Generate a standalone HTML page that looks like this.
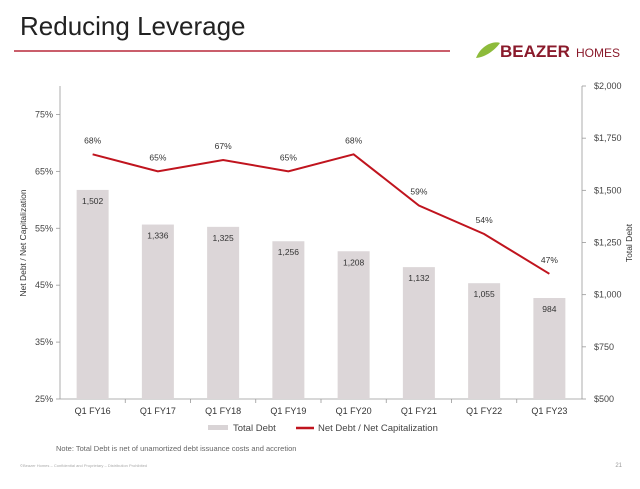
<!DOCTYPE html>
<html><head><meta charset="utf-8"><style>
body{margin:0;width:640px;height:484px;background:#fff;overflow:hidden;font-family:"Liberation Sans",sans-serif}
</style></head><body>
<svg width="640" height="484" font-family="Liberation Sans, sans-serif">
<text x="20" y="35" font-size="26" fill="#222">Reducing Leverage</text>
<line x1="14" y1="51" x2="450" y2="51" stroke="#b8283a" stroke-width="1.5"/>
<g>
<path d="M476,58 C482,43 496,41 500,43 C495,50 486,57 476,58 Z" fill="#8dbb3b"/>
<text x="500" y="57" font-size="17" font-weight="bold" fill="#8a1a2b">BEAZER</text>
<text x="576" y="57" font-size="12" fill="#8a1a2b">HOMES</text>
</g>
<g id="chart"></g>
<g>
<rect x="208" y="425" width="20" height="5" fill="#d9d4d6"/>
<text x="233" y="431" font-size="9.5" fill="#444">Total Debt</text>
<line x1="296" y1="428" x2="314" y2="428" stroke="#c0141e" stroke-width="2.5"/>
<text x="318" y="431" font-size="9.5" fill="#444">Net Debt / Net Capitalization</text>
</g>
<text x="56" y="451" font-size="7.5" fill="#666">Note: Total Debt is net of unamortized debt issuance costs and accretion</text>
<text x="20" y="467" font-size="4" fill="#aaa">©Beazer Homes – Confidential and Proprietary – Distribution Prohibited</text>
<text x="622" y="467" font-size="6" fill="#999" text-anchor="end">21</text>
<text transform="translate(26,243) rotate(-90)" font-size="8.5" fill="#333" text-anchor="middle">Net Debt / Net Capitalization</text>
<text transform="translate(632,243) rotate(-90)" font-size="8.5" fill="#333" text-anchor="middle">Total Debt</text>
</svg>
<script>
const categories=["Q1 FY16","Q1 FY17","Q1 FY18","Q1 FY19","Q1 FY20","Q1 FY21","Q1 FY22","Q1 FY23"];
const totalDebt=[1502,1336,1325,1256,1208,1132,1055,984];
const netDebtPct=[68,65,67,65,68,59,54,47];
const leftTicks=[25,35,45,55,65,75];
const rightTicks=[500,750,1000,1250,1500,1750,2000];
const NS="http://www.w3.org/2000/svg";
const g=document.getElementById('chart');
const X0=60,X1=582,Y0=399,YT=86;
const band=(X1-X0)/categories.length;
const xc=i=>X0+band*(i+0.5);
const yL=v=>Y0-(v-25)/(80-25)*(Y0-YT);
const yR=v=>Y0-(v-500)/(2000-500)*(Y0-YT);
function el(t,a){const e=document.createElementNS(NS,t);for(const k in a)e.setAttribute(k,a[k]);g.appendChild(e);return e;}
let e;
e=el('line',{x1:X0,y1:YT,x2:X0,y2:Y0,stroke:'#999','stroke-width':0.8});


e=el('line',{x1:X1,y1:YT,x2:X1,y2:Y0,stroke:'#999','stroke-width':0.8});


e=el('line',{x1:X0,y1:Y0,x2:X1,y2:Y0,stroke:'#999','stroke-width':0.8});


leftTicks.forEach(v=>{
 el('line',{x1:X0-4,y1:yL(v),x2:X0,y2:yL(v),stroke:'#999','stroke-width':0.8});
 e=el('text',{x:X0-7,y:yL(v)+3,'font-size':9,fill:'#444','text-anchor':'end'});e.textContent=v+'%';
 
 
});
rightTicks.forEach(v=>{
 el('line',{x1:X1,y1:yR(v),x2:X1+4,y2:yR(v),stroke:'#999','stroke-width':0.8});
 e=el('text',{x:X1+12,y:yR(v)+3,'font-size':9,fill:'#444'});e.textContent='$'+v.toLocaleString('en-US');
 
 
});
categories.forEach((c,i)=>{
 if(i>0)el('line',{x1:X0+band*i,y1:Y0,x2:X0+band*i,y2:Y0+4,stroke:'#999','stroke-width':0.8});
 e=el('text',{x:xc(i),y:Y0+15,'font-size':9,fill:'#333','text-anchor':'middle'});e.textContent=c;
 
 
 const bw=32;
 e=el('rect',{x:xc(i)-bw/2,y:yR(totalDebt[i]),width:bw,height:Y0-yR(totalDebt[i]),fill:'#dcd6d8'});
 
 
 e=el('text',{x:xc(i),y:yR(totalDebt[i])+14,'font-size':8.5,fill:'#333','text-anchor':'middle'});e.textContent=totalDebt[i].toLocaleString('en-US');
 
 
});
e=el('polyline',{points:netDebtPct.map((v,i)=>xc(i)+','+yL(v)).join(' '),fill:'none',stroke:'#c0141e','stroke-width':2});


netDebtPct.forEach((v,i)=>{
 e=el('text',{x:xc(i),y:yL(v)-11,'font-size':8.5,fill:'#333','text-anchor':'middle'});e.textContent=v+'%';
 
 
});
</script>
</body></html>
